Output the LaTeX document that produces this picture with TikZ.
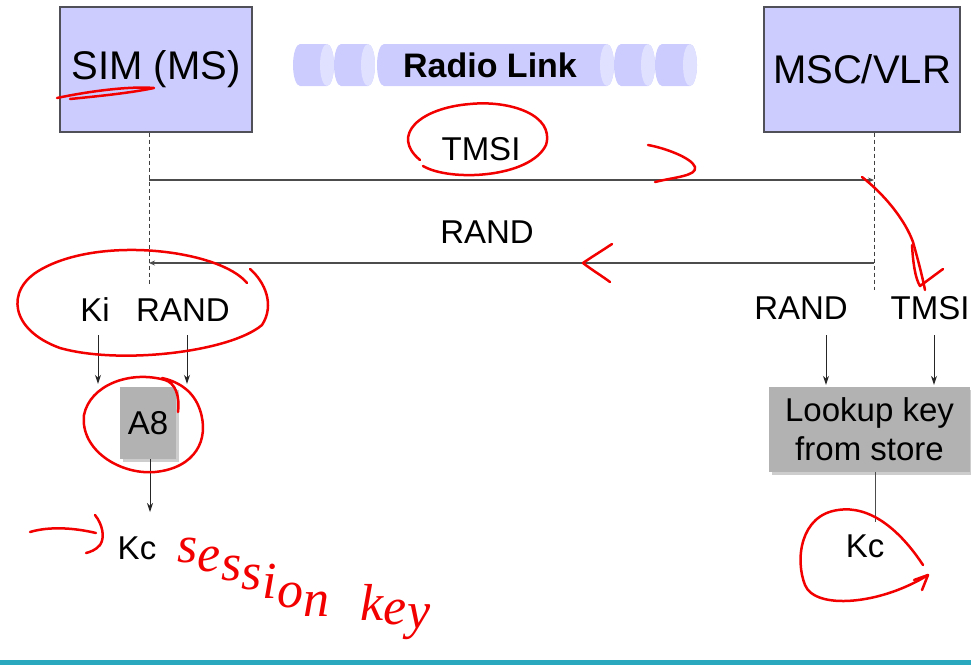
\documentclass[tikz,border=0pt]{standalone}
\usepackage{fontspec}
\setmainfont{Liberation Sans}
\newfontfamily\handfont{Liberation Serif}
\usetikzlibrary{arrows.meta,shadows}
\definecolor{boxblue}{HTML}{CCCCFF}
\definecolor{boxface}{HTML}{E0E0FF}
\definecolor{boxedge}{HTML}{505058}
\definecolor{grayfill}{HTML}{B2B2B2}
\definecolor{grayshadow}{HTML}{CDCDCD}
\definecolor{pen}{HTML}{F20000}
\definecolor{tealline}{HTML}{2AA8BE}
\newcommand\radioseg[2]{%
  \fill[boxblue] (#1+7,44) arc[start angle=90,end angle=270,x radius=7pt,y radius=21pt]
     -- (#2-7,86) arc[start angle=270,end angle=450,x radius=7pt,y radius=21pt] -- cycle;
  \fill[boxface] (#2-7,65) ellipse[x radius=7pt,y radius=21pt];
}
\begin{document}
\begin{tikzpicture}[x=1pt,y=-1pt,
  entity/.style={draw=boxedge, line width=1.3pt, fill=boxblue, inner sep=0pt,
                 font=\fontsize{40}{44}\selectfont},
  lbl/.style={inner sep=0pt, font=\fontsize{33}{38}\selectfont},
  proc/.style={fill=grayfill, inner sep=0pt, align=center,
               font=\fontsize{33}{39}\selectfont,
               drop shadow={shadow xshift=3pt, shadow yshift=-3pt, fill=grayshadow, opacity=1}},
  life/.style={draw=black!75, line width=0.9pt, dash pattern=on 4pt off 3pt},
  msg/.style={draw=black!70, line width=1.3pt, -{Stealth[length=6pt,width=5pt]}},
  flow/.style={draw=black!85, line width=1pt, -{Stealth[length=9pt,width=6pt]}},
  plain/.style={draw=black!70, line width=1pt},
  ink/.style={draw=pen, line width=2.5pt, line cap=round, line join=round},
  hand/.style={text=pen, inner sep=0pt, anchor=base west,
               font=\handfont\itshape\fontsize{52}{56}\selectfont},
]
\useasboundingbox (0,0) rectangle (971,665);

% radio link
\radioseg{293}{334}
\radioseg{334}{375}
\radioseg{377}{614}
\radioseg{614}{655}
\radioseg{655}{697}
\node[inner sep=0pt, font=\fontsize{34}{38}\selectfont\bfseries] (radio) at (490,65) {Radio Link};

% entities
\node[entity, minimum width=192pt, minimum height=125pt] (sim) at (156,69.5) {SIM (MS)};
\node[entity, minimum width=196pt, minimum height=125pt] (msc) at (862,69.5) {MSC/VLR};

% lifelines
\coordinate (simL) at (149,286);
\coordinate (mscL) at (874,290);
\draw[life] (sim.south -| simL) -- (simL);
\draw[life] (msc.south -| mscL) -- (mscL);

% messages
\coordinate (tmsiFrom) at (149,180);
\coordinate (tmsiTo) at (874,180);
\draw[msg] (tmsiFrom) -- (tmsiTo);
\node[lbl] (tmsiLbl) at (481,149) {TMSI};
\coordinate (randFrom) at (874,263);
\coordinate (randTo) at (149,263);
\draw[msg] (randFrom) -- (randTo);
\node[lbl] (randLbl) at (487,232) {RAND};

% MS side
\node[lbl] (ki) at (95,310) {Ki};
\node[lbl] (randL) at (183,310) {RAND};
\node[proc, minimum width=56pt, minimum height=72pt] (a8) at (148,423) {A8};
\node[lbl] (kcL) at (137,548) {Kc};
\coordinate (kiA) at (98,335);
\coordinate (randA) at (187,335);
\draw[flow, shorten >=3pt] (kiA) -- (kiA |- a8.north);
\draw[flow, shorten >=3pt] (randA) -- (randA |- a8.north);
\coordinate (a8Out) at (150,459);
\coordinate (kcLIn) at (150,512);
\draw[flow] (a8Out) -- (kcLIn);

% network side
\node[lbl] (randR) at (801,308) {RAND};
\node[lbl] (tmsiR) at (930,308) {TMSI};
\node[proc, minimum width=201pt, minimum height=85pt] (look) at (869.5,429.5) {Lookup key\\from store};
\node[lbl] (kcR) at (865,546) {Kc};
\coordinate (rA) at (826,335);
\coordinate (tA) at (934,335);
\draw[flow, shorten >=2pt] (rA) -- (rA |- look.north);
\draw[flow, shorten >=2pt] (tA) -- (tA |- look.north);
\coordinate (kcRIn) at (875,522);
\draw[plain] (look.south -| kcRIn) -- (kcRIn);

% bottom rule
\fill[tealline] (0,660) rectangle (971,665);

% red annotations
\draw[ink] (57,98) .. controls (90,91) and (130,86) .. (154,88) .. controls (130,93) and (100,96) .. (70,99);
\draw[ink] (423,166) .. controls (450,182) and (530,178) .. (546,145) .. controls (555,115) and (510,100) .. (470,104) .. controls (420,108) and (390,135) .. (420,160);
\draw[ink] (648,145) .. controls (665,148) and (692,158) .. (695,167) .. controls (697,176) and (675,177) .. (655,182);
\draw[ink] (862,177) .. controls (885,195) and (905,220) .. (913,242) .. controls (918,260) and (922,275) .. (925,290);
\draw[ink] (912,245) .. controls (913,262) and (915,278) .. (920,286) -- (943,269);
\draw[ink] (612,244) .. controls (600,252) and (590,258) .. (583,263) .. controls (592,270) and (602,276) .. (610,282);
\draw[ink] (247,283) .. controls (220,250) and (100,235) .. (40,270) .. controls (5,290) and (10,330) .. (60,348) .. controls (120,365) and (230,352) .. (262,325) .. controls (275,305) and (265,282) .. (250,269);
\draw[ink] (178,412) .. controls (180,395) and (175,383) .. (165,380) .. controls (130,370) and (90,385) .. (84,415) .. controls (80,450) and (120,475) .. (155,472) .. controls (195,468) and (210,440) .. (200,410) .. controls (194,392) and (180,382) .. (162,378);
\draw[ink] (30,532) .. controls (50,526) and (75,528) .. (96,533);
\draw[ink] (95,515) .. controls (103,525) and (105,538) .. (100,545) .. controls (96,550) and (90,552) .. (86,553);
\draw[ink] (923,565) .. controls (900,530) and (870,505) .. (838,510) .. controls (800,515) and (795,560) .. (805,585) .. controls (815,610) and (880,605) .. (928,575);
\draw[ink] (914,580) -- (928,575) -- (922,590);

% handwritten "session key", letter by letter on a falling line
\node[hand] (h1) at (177,562) {s};
\node[hand] (h2) at ([yshift=-9pt]h1.base east) {e};
\node[hand] (h3) at ([yshift=-9pt]h2.base east) {s};
\node[hand] (h4) at ([yshift=-9pt]h3.base east) {s};
\node[hand] (h5) at ([yshift=-9pt]h4.base east) {i};
\node[hand] (h6) at ([yshift=-9pt]h5.base east) {o};
\node[hand] (h7) at ([yshift=-9pt]h6.base east) {n};
\node[hand] (h8) at (360,620) {k};
\node[hand] (h9) at ([yshift=-4pt]h8.base east) {e};
\node[hand] (h10) at ([yshift=-4pt]h9.base east) {y};
\end{tikzpicture}
\end{document}
